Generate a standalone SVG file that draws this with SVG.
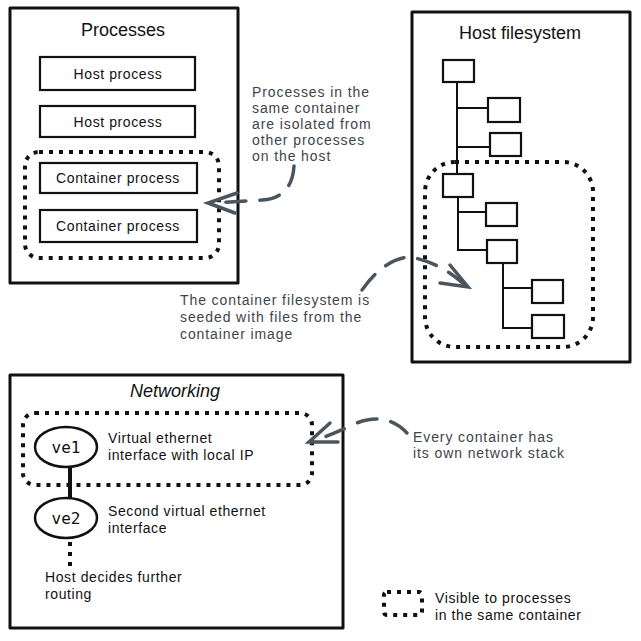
<svg xmlns="http://www.w3.org/2000/svg" width="641" height="641" viewBox="0 0 641 641">
<style>
.box{fill:none;stroke:#111;stroke-width:3;stroke-linejoin:round}
.sbox{fill:#fff;stroke:#111;stroke-width:2.2}
.dot{fill:none;stroke:#111;stroke-width:4;stroke-dasharray:4 6}
.tree{fill:none;stroke:#111;stroke-width:2}
.arr{fill:none;stroke:#4b555e;stroke-width:3.5;stroke-linecap:round;stroke-dasharray:20 14}
.head{fill:none;stroke:#4b555e;stroke-width:3.5;stroke-linecap:round}
.title{font-family:"Liberation Sans",Arial,sans-serif;font-size:18px;fill:#111;text-anchor:middle}
.lbl{font-family:"Liberation Sans",Arial,sans-serif;font-size:14px;fill:#111;letter-spacing:0.6px}
.note{font-family:"Liberation Sans",Arial,sans-serif;font-size:14px;fill:#3e444a;letter-spacing:0.9px}
.mono{font-family:"DejaVu Sans Mono",monospace;font-size:16px;fill:#111;text-anchor:middle}
</style>

<g id="processes">
<rect class="box" x="10" y="8" width="228" height="275"/>
<text class="title" x="123" y="36">Processes</text>
</g>
<g id="host-process-1">
<rect class="sbox" x="40" y="57" width="155" height="33"/>
<text class="lbl" x="118" y="79" text-anchor="middle">Host process</text>
</g>
<g id="host-process-2">
<rect class="sbox" x="40" y="106" width="155" height="31"/>
<text class="lbl" x="118" y="127" text-anchor="middle">Host process</text>
</g>
<g id="container-process-1">
<rect class="sbox" x="40" y="163" width="157" height="30"/>
<text class="lbl" x="118" y="183" text-anchor="middle">Container process</text>
</g>
<g id="container-process-2">
<rect class="sbox" x="40" y="210" width="157" height="32"/>
<text class="lbl" x="118" y="231" text-anchor="middle">Container process</text>
</g>
<g id="process-container-scope">
<rect class="dot" x="25" y="152" width="194" height="106" rx="14"/>
</g>

<g id="host-filesystem">
<rect class="box" x="412" y="12" width="218" height="350"/>
<text class="title" x="520" y="39">Host filesystem</text>
<g id="fs-tree-lines">
<path class="tree" d="M457,82 V174 M457,108 H488 M457,147 H490 M458,197 V250 H487 M458,212 H486 M503,263 V328 H532 M503,288 H532"/>
</g>
<rect class="sbox" x="443" y="60" width="31" height="22"/>
<rect class="sbox" x="488" y="98" width="32" height="24"/>
<rect class="sbox" x="490" y="133" width="31" height="23"/>
<rect class="sbox" x="443" y="174" width="30" height="23"/>
<rect class="sbox" x="486" y="203" width="31" height="23"/>
<rect class="sbox" x="487" y="240" width="30" height="23"/>
<rect class="sbox" x="532" y="280" width="31" height="23"/>
<rect class="sbox" x="532" y="315" width="32" height="23"/>
</g>
<g id="fs-container-scope">
<rect class="dot" x="425" y="162" width="168" height="185" rx="30"/>
</g>

<g id="networking">
<rect class="box" x="10" y="375" width="333" height="253"/>
<text class="title" x="175" y="397" font-style="italic">Networking</text>
</g>
<g id="net-container-scope">
<rect class="dot" x="23" y="413" width="289" height="72" rx="12"/>
</g>
<g id="ve1">
<ellipse cx="66" cy="447" rx="31" ry="20" fill="#fff" stroke="#111" stroke-width="2.5"/>
<text class="mono" x="66" y="453">ve1</text>
</g>
<g id="ve2">
<ellipse cx="66" cy="518" rx="31" ry="20" fill="#fff" stroke="#111" stroke-width="2.5"/>
<text class="mono" x="66" y="524">ve2</text>
</g>
<text class="lbl" x="108" y="443">Virtual ethernet</text>
<text class="lbl" x="108" y="460">interface with local IP</text>
<text class="lbl" x="108" y="516">Second virtual ethernet</text>
<text class="lbl" x="108" y="533">interface</text>
<text class="lbl" x="45" y="582">Host decides further</text>
<text class="lbl" x="45" y="599">routing</text>

<g id="connectors">
<line x1="70" y1="467" x2="70" y2="498" stroke="#111" stroke-width="4"/>
<line x1="70" y1="542" x2="70" y2="566" stroke="#111" stroke-width="4" stroke-dasharray="4 6"/>
<path class="arr" d="M294,166 Q292,198 262,200 L212,203"/>
<path class="head" d="M237,193 L208,203 L235,213"/>
<path class="arr" d="M362,290 Q385,258 410,257 Q440,262 466,286"/>
<path class="head" d="M450,265 L468,287 L440,283"/>
<path class="arr" d="M407,433 Q385,410 352,425 Q330,436 312,441"/>
<path class="head" d="M330,423 L309,442 L338,442"/>
</g>

<g id="annotations">
<text class="note" x="252" y="97">Processes in the</text>
<text class="note" x="252" y="113">same container</text>
<text class="note" x="252" y="129">are isolated from</text>
<text class="note" x="252" y="145">other processes</text>
<text class="note" x="252" y="161">on the host</text>
<text class="note" x="180" y="305">The container filesystem is</text>
<text class="note" x="180" y="322">seeded with files from the</text>
<text class="note" x="180" y="339">container image</text>
<text class="note" x="413" y="442">Every container has</text>
<text class="note" x="413" y="458">its own network stack</text>
</g>

<g id="legend">
<rect class="dot" x="384" y="592" width="38" height="23" rx="3"/>
<text class="lbl" x="435" y="603">Visible to processes</text>
<text class="lbl" x="435" y="620">in the same container</text>
</g>
</svg>
